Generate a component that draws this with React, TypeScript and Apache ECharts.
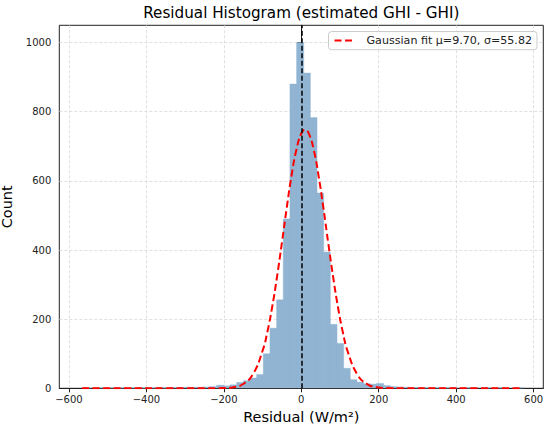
import React, { useEffect, useRef } from "react";
import * as echarts from "echarts";

const TITLE = "Residual Histogram (estimated GHI - GHI)";
const X_NAME = "Residual (W/m²)";
const Y_NAME = "Count";
const LEGEND_LABEL = "Gaussian fit μ=9.70, σ=55.82";

// histogram bins (left edge of first bin, bin width) and counts per bin
const BIN_START = -562.6;
const BIN_WIDTH = 17.2;
const COUNTS = [
  1, 0, 1, 0, 1, 1, 0, 1, 1, 1, 1, 2, 1, 2, 2, 3, 3, 3, 4, 5,
  9, 7, 10, 17, 22, 30, 40, 100, 174, 256, 490, 880,
  1000,
  912, 783, 565, 394, 185, 130, 58, 25, 18, 13, 12, 14, 8, 5, 4, 3, 2,
  2, 1, 2, 1, 1, 1, 0, 1, 1, 0, 1, 0, 1, 0, 0, 1,
];

// fitted gaussian curve
const FIT_X = [
  -566, -450, -350, -300, -250, -200, -175, -150, -125, -100, -87.5, -75, -62.5,
  -50, -37.5, -25, -12.5, 0, 9.7, 20, 32.5, 45, 57.5, 70, 82.5, 95, 107.5, 120,
  145, 170, 195, 220, 270, 350, 450, 564,
];
const FIT_Y = [
  0, 0, 0, 0, 0, 0.6, 3.1, 12.5, 40.7, 108.5, 164, 236.6, 324,
  422, 523, 617, 691, 737, 748, 735, 688, 612, 518, 417, 320, 233, 161, 106,
  39.6, 12.1, 3.0, 0.6, 0, 0, 0, 0,
];

const X_TICKS = [-600, -400, -200, 0, 200, 400, 600];
const Y_TICKS = [0, 200, 400, 600, 800, 1000];
const VLINE_X = 0;

const FONT = "DejaVu Sans";
const BAR_COLOR = "#90b4d2";

export default function App() {
  const ref = useRef<HTMLDivElement>(null);

  useEffect(() => {
    if (!ref.current) return;
    const chart = echarts.init(ref.current, null, { renderer: "svg" });

    const histData = COUNTS.map((c, i) => [
      BIN_START + i * BIN_WIDTH,
      BIN_START + (i + 1) * BIN_WIDTH,
      c,
    ]);
    const fitData = FIT_X.map((x, i) => [x, FIT_Y[i]]);

    const gridLine = {
      show: true,
      lineStyle: { color: "#d8d8d8", width: 0.8, type: [3, 2] as any },
    };

    chart.setOption({
      animation: false,
      backgroundColor: "#ffffff",
      textStyle: { fontFamily: FONT },
      graphic: [
        {
          type: "text",
          x: 301.3,
          y: 5,
          style: {
            text: TITLE,
            align: "center",
            verticalAlign: "top",
            fontFamily: FONT,
            fontSize: 15.2,
            fill: "#000",
          },
        },
      ],
      legend: {
        data: [{ name: LEGEND_LABEL }],
        right: 13,
        top: 31.5,
        padding: [3.5, 5],
        itemWidth: 21,
        itemHeight: 14,
        itemStyle: { opacity: 0 },
        backgroundColor: "rgba(255,255,255,0.8)",
        borderColor: "#cccccc",
        borderWidth: 1,
        borderRadius: 3,
        textStyle: {
          fontFamily: FONT,
          fontSize: 11.1,
          color: "#222",
          padding: [0, 0, 0, 6],
        },
      },
      grid: {
        left: 59.3,
        right: 6.7,
        top: 25.3,
        bottom: 41.7,
        outerBoundsMode: "none",
        containLabel: false,
        show: true,
        borderColor: "#222",
        borderWidth: 1,
        backgroundColor: "transparent",
      },
      xAxis: {
        type: "value",
        min: -625,
        max: 625,
        name: X_NAME,
        nameLocation: "middle",
        nameGap: 16,
        nameTextStyle: { fontFamily: FONT, fontSize: 14.5, color: "#000" },
        axisLine: { show: true, onZero: false, lineStyle: { color: "#222", width: 1 } },
        axisTick: {
          show: true,
          length: 4,
          inside: false,
          customValues: X_TICKS,
          lineStyle: { color: "#222", width: 1 },
        },
        axisLabel: {
          customValues: X_TICKS,
          margin: 6,
          fontFamily: FONT,
          fontSize: 10,
          color: "#222",
          formatter: (v: number) => (v < 0 ? "\u2212" + Math.abs(v) : String(v)),
        },
        splitLine: gridLine,
      },
      yAxis: {
        type: "value",
        min: 0,
        max: 1050,
        name: Y_NAME,
        nameLocation: "middle",
        nameGap: 36,
        nameTextStyle: { fontFamily: FONT, fontSize: 14.5, color: "#000" },
        axisLine: { show: true, lineStyle: { color: "#222", width: 1 } },
        axisTick: {
          show: true,
          length: 4,
          customValues: Y_TICKS,
          lineStyle: { color: "#222", width: 1 },
        },
        axisLabel: {
          customValues: Y_TICKS,
          margin: 8,
          fontFamily: FONT,
          fontSize: 10,
          color: "#222",
          formatter: (v: number) => String(v),
        },
        splitLine: gridLine,
      },
      series: [
        {
          type: "custom",
          name: "hist",
          data: histData,
          encode: { x: [0, 1], y: 2 },
          z: 2,
          renderItem: (params: any, api: any) => {
            const x0 = api.value(0);
            const x1 = api.value(1);
            const y = api.value(2);
            if (!y) return null;
            const p0 = api.coord([x0, y]);
            const p1 = api.coord([x1, 0]);
            return {
              type: "rect",
              shape: {
                x: p0[0],
                y: p0[1],
                width: p1[0] - p0[0] + 0.5,
                height: p1[1] - p0[1] - 0.5,
              },
              style: { fill: BAR_COLOR, stroke: BAR_COLOR, lineWidth: 0.4 },
            };
          },
        },
        {
          type: "line",
          name: LEGEND_LABEL,
          data: fitData,
          smooth: true,
          symbol: "none",
          z: 4,
          lineStyle: { color: "#ff0000", width: 2, type: [7, 3.5] as any },
          itemStyle: { color: "#ff0000" },
          markLine: {
            silent: true,
            symbol: ["none", "none"],
            label: { show: false },
            lineStyle: { color: "#000", width: 1.5, type: [5, 2.5] as any },
            emphasis: { disabled: true },
            data: [{ xAxis: VLINE_X }],
          },
        },
      ],
    });

    return () => chart.dispose();
  }, []);

  return (
    <div
      ref={ref}
      style={{ position: "fixed", left: 0, top: 0, width: 550, height: 430 }}
    />
  );
}
